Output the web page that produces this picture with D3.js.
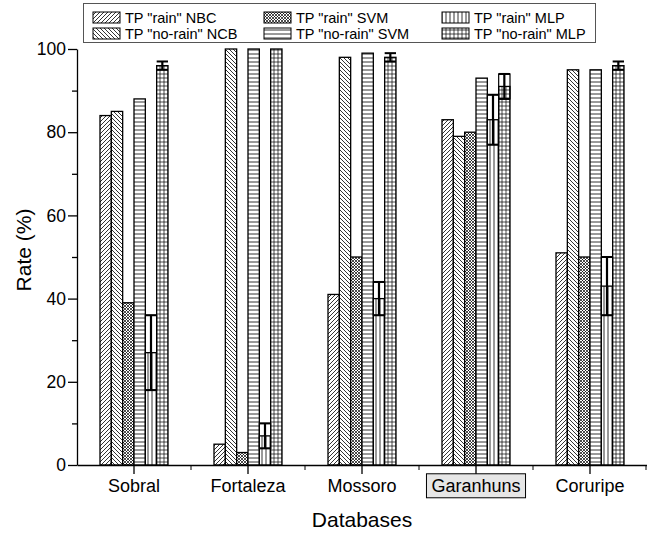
<!DOCTYPE html>
<html>
<head>
<meta charset="utf-8">
<script src="https://cdn.jsdelivr.net/npm/d3@7"></script>
<style>
  body { margin: 0; background: #fff; }
  text { font-family: "Liberation Sans", Arial, sans-serif; fill: #000; }
</style>
</head>
<body>
<div id="chart"></div>
<script>
// valores
const databases = ['Sobral', 'Fortaleza', 'Mossoro', 'Garanhuns', 'Coruripe'];
const seriesNames = ['TP "rain" NBC', 'TP "no-rain" NCB', 'TP "rain" SVM',
                     'TP "no-rain" SVM', 'TP "rain" MLP', 'TP "no-rain" MLP'];
const rainNBC    = [84, 5, 41, 83, 51];
const noRainNCB  = [85, 100, 98, 79, 95];
const rainSVM    = [39, 3, 50, 80, 50];
const noRainSVM  = [88, 100, 99, 93, 95];
const rainMLP    = [27, 7, 40, 83, 43];
const noRainMLP  = [96, 100, 98, 91, 96];
const rainMLPErr   = [9, 3, 4, 6, 7];
const noRainMLPErr = [1, 0, 1, 3, 1];
const yMajor = [0, 20, 40, 60, 80, 100];
const yMinor = [10, 30, 50, 70, 90];

const values = [rainNBC, noRainNCB, rainSVM, noRainSVM, rainMLP, noRainMLP];
const errors = [null, null, null, null, rainMLPErr, noRainMLPErr];
const patternIds = ['p-diag', 'p-back', 'p-cross', 'p-horiz', 'p-vert', 'p-grid'];

const width = 647, height = 534;
const plot = { left: 77, right: 647, top: 49, bottom: 465 };

const svg = d3.select('#chart').append('svg')
  .attr('width', width)
  .attr('height', height);

// padroes de hachura
const defs = svg.append('defs');
function pattern(id, w, h, d, sw) {
  defs.append('pattern')
    .attr('id', id)
    .attr('patternUnits', 'userSpaceOnUse')
    .attr('width', w).attr('height', h)
    .call(p => p.append('rect').attr('width', w).attr('height', h).attr('fill', '#fff'))
    .append('path')
    .attr('d', d)
    .attr('stroke', '#000')
    .attr('stroke-width', sw)
    .attr('fill', 'none');
}
pattern('p-diag', 4, 4, 'M-1,1 l2,-2 M0,4 l4,-4 M3,5 l2,-2', 0.8);
pattern('p-back', 4, 4, 'M-1,3 l2,2 M0,0 l4,4 M3,-1 l2,2', 0.8);
pattern('p-cross', 3, 3, 'M0,0 l3,3 M0,3 l3,-3', 0.7);
pattern('p-horiz', 4, 4, 'M0,2 h4', 0.8);
pattern('p-vert', 4, 4, 'M2,0 v4', 0.8);
pattern('p-grid', 4, 4, 'M0,2 h4 M2,0 v4', 0.7);

const x0 = d3.scaleBand()
  .domain(databases)
  .range([plot.left, plot.right]);

const x1 = d3.scaleBand()
  .domain(d3.range(seriesNames.length))
  .range([-34, 34]);

const y = d3.scaleLinear()
  .domain([0, 100])
  .range([plot.bottom, plot.top]);

// barras
const groups = svg.append('g').attr('class', 'bars')
  .selectAll('g')
  .data(databases)
  .join('g')
  .attr('transform', d => `translate(${x0(d) + x0.bandwidth() / 2},0)`);

groups.each(function(db, gi) {
  const g = d3.select(this);
  values.forEach((serie, si) => {
    g.append('rect')
      .attr('x', x1(si))
      .attr('y', y(serie[gi]))
      .attr('width', x1.bandwidth())
      .attr('height', y(0) - y(serie[gi]))
      .attr('fill', `url(#${patternIds[si]})`)
      .attr('stroke', '#000')
      .attr('stroke-width', 1.3);
  });
  errors.forEach((err, si) => {
    if (!err || !err[gi]) return;
    const v = values[si][gi];
    const xa = x1(si), xb = x1(si) + x1.bandwidth(), xm = (xa + xb) / 2;
    const hi = y(v + err[gi]), lo = y(v - err[gi]);
    const eg = g.append('g').attr('stroke', '#000').attr('fill', 'none');
    if (err[gi] > 2) {
      eg.append('rect')
        .attr('x', xa).attr('y', hi)
        .attr('width', xb - xa).attr('height', lo - hi)
        .attr('stroke-width', 1.2);
    }
    eg.append('line').attr('x1', xm).attr('x2', xm).attr('y1', hi).attr('y2', lo).attr('stroke-width', 2.2);
    eg.append('line').attr('x1', xa).attr('x2', xb).attr('y1', hi).attr('y2', hi).attr('stroke-width', 2);
    eg.append('line').attr('x1', xa).attr('x2', xb).attr('y1', lo).attr('y2', lo).attr('stroke-width', 2);
  });
});

// eixo y
const yAxis = svg.append('g')
  .attr('transform', `translate(${plot.left},0)`)
  .call(d3.axisLeft(y).tickValues(yMajor).tickSize(9).tickPadding(2).tickSizeOuter(0));
svg.append('g')
  .attr('transform', `translate(${plot.left},0)`)
  .call(d3.axisLeft(y).tickValues(yMinor).tickSize(5).tickFormat('').tickSizeOuter(0))
  .select('.domain').remove();
yAxis.selectAll('text').style('font-size', '17.5px');

// eixo x
const xAxis = svg.append('g')
  .attr('transform', `translate(0,${plot.bottom})`)
  .call(d3.axisBottom(x0).tickSize(9).tickPadding(5).tickSizeOuter(0));
xAxis.selectAll('text').style('font-size', '18px');
const bounds = databases.slice(1).map(d => x0(d)).concat([x0.range()[1] - 1]);
xAxis.selectAll('.bound')
  .data(bounds)
  .join('line')
  .attr('class', 'bound')
  .attr('x1', d => d).attr('x2', d => d)
  .attr('y1', 0).attr('y2', 5)
  .attr('stroke', '#000');
svg.selectAll('.domain, .tick line').attr('stroke', '#000').attr('stroke-width', 1.3);

// destaque do rotulo Garanhuns
xAxis.selectAll('.tick').filter(d => d === 'Garanhuns').each(function() {
  const t = d3.select(this);
  const bb = t.select('text').node().getBBox();
  t.insert('rect', 'text')
    .attr('x', bb.x - 5).attr('y', bb.y - 2)
    .attr('width', bb.width + 10).attr('height', bb.height + 4)
    .attr('fill', '#e6e6e6')
    .attr('stroke', '#000')
    .attr('stroke-width', 1);
});

svg.append('text')
  .attr('x', (plot.left + plot.right) / 2)
  .attr('y', 527)
  .attr('text-anchor', 'middle')
  .style('font-size', '21px')
  .text('Databases');

svg.append('text')
  .attr('transform', `translate(31,250) rotate(-90)`)
  .attr('text-anchor', 'middle')
  .style('font-size', '21px')
  .text('Rate (%)');

// legenda
const legend = svg.append('g').attr('class', 'legend');
legend.append('rect')
  .attr('x', 83.5).attr('y', 3.5)
  .attr('width', 512).attr('height', 39)
  .attr('fill', '#fff')
  .attr('stroke', '#555')
  .attr('stroke-width', 1);
const legendCols = [93, 264, 442];
const legendRows = [12, 28];
seriesNames.forEach((name, i) => {
  const cx = legendCols[Math.floor(i / 2)];
  const cy = legendRows[i % 2];
  legend.append('rect')
    .attr('x', cx).attr('y', cy)
    .attr('width', 27).attr('height', 11)
    .attr('fill', `url(#${patternIds[i]})`)
    .attr('stroke', '#000')
    .attr('stroke-width', 1);
  legend.append('text')
    .attr('x', cx + 32).attr('y', cy + 11)
    .style('font-size', '14.5px')
    .text(name);
});
</script>
</body>
</html>
